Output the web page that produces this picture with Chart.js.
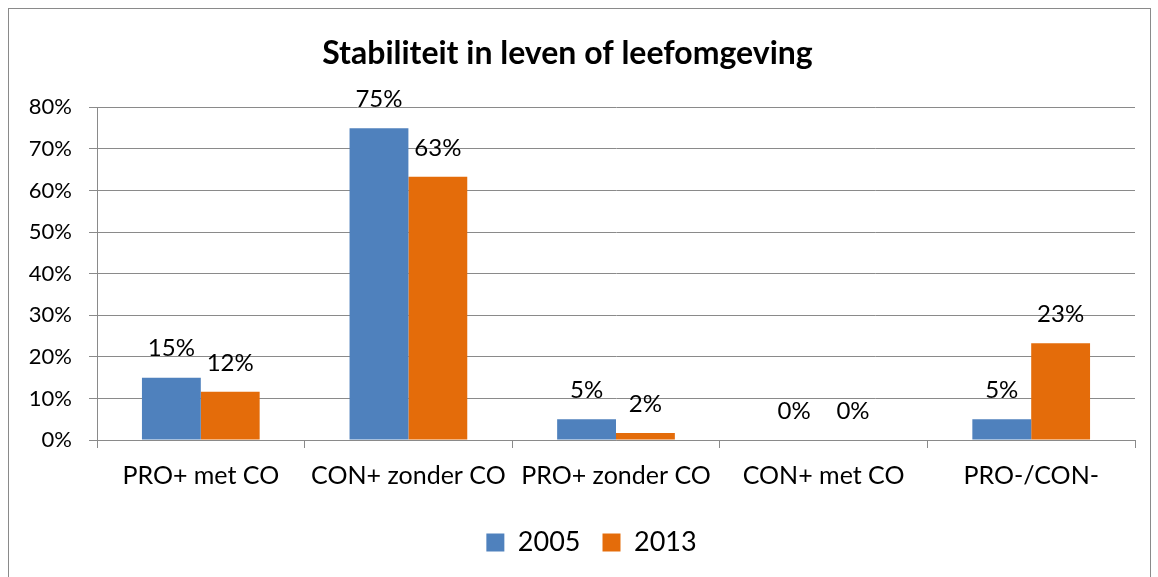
<!DOCTYPE html>
<html>
<head>
<meta charset="utf-8">
<script src="https://cdn.jsdelivr.net/npm/chart.js@4/dist/chart.umd.min.js"></script>
<style>
  html, body { margin: 0; padding: 0; background: #fff; }
  #wrap { position: relative; width: 1158px; height: 577px; }
  #frame { position: absolute; left: 8px; top: 8px; width: 1143px; height: 580px; border: 1px solid #8a8a8a; box-sizing: border-box; pointer-events: none; }
  canvas { position: absolute; left: 0; top: 0; }
</style>
</head>
<body>
<div id="wrap">
  <canvas id="chart" width="1158" height="577"></canvas>
  <div id="frame"></div>
</div>
<script>
const categories = ['PRO+ met CO', 'CON+ zonder CO', 'PRO+ zonder CO', 'CON+ met CO', 'PRO-/CON-'];
const values2005 = [15, 75, 5, 0, 5];
const values2013 = [11.6, 63.3, 1.7, 0, 23.3];
const yTicks = [0, 10, 20, 30, 40, 50, 60, 70, 80];

const FONT = 'Lato, "Liberation Sans", sans-serif';

// draws the rounded value above each bar
const barLabels = {
    id: 'barLabels',
    afterDatasetsDraw(chart) {
        const ctx = chart.ctx;
        ctx.save();
        ctx.font = '24px ' + FONT;
        ctx.fillStyle = '#000';
        ctx.textAlign = 'center';
        ctx.textBaseline = 'middle';
        chart.data.datasets.forEach((ds, i) => {
            chart.getDatasetMeta(i).data.forEach((bar, j) => {
                ctx.fillText(Math.round(ds.data[j]) + '%', bar.x, bar.y - 29);
            });
        });
        ctx.restore();
    }
};

// legend sits a bit right of the title in the original
const legendShift = {
    id: 'legendShift',
    afterLayout(chart) {
        if (chart.legend) {
            chart.legend.left += 24;
            chart.legend.right += 24;
        }
    }
};

new Chart(document.getElementById('chart'), {
    type: 'bar',
    data: {
        labels: categories,
        datasets: [
            { label: '2005', data: values2005, backgroundColor: '#4F81BD' },
            { label: '2013', data: values2013, backgroundColor: '#E46C0A' }
        ]
    },
    options: {
        responsive: false,
        animation: false,
        layout: { padding: { left: 0, right: 23, top: 0, bottom: 11 } },
        datasets: { bar: { categoryPercentage: 0.567, barPercentage: 1 } },
        plugins: {
            title: {
                display: true,
                text: 'Stabiliteit in leven of leefomgeving',
                color: '#000',
                font: { family: FONT, size: 32, weight: 'bold' },
                padding: { top: 34, bottom: 35 }
            },
            legend: {
                position: 'bottom',
                labels: {
                    color: '#000',
                    boxWidth: 18,
                    boxHeight: 18,
                    padding: 22,
                    font: { family: FONT, size: 27 }
                }
            },
            tooltip: { enabled: false }
        },
        scales: {
            x: {
                grid: { drawOnChartArea: false, drawTicks: true, tickLength: 8, color: '#8a8a8a', offset: true },
                border: { color: '#8a8a8a' },
                ticks: { color: '#000', font: { family: FONT, size: 25 }, padding: 13, maxRotation: 0, autoSkip: false },
                afterFit(scale) { scale.height = 67; }
            },
            y: {
                min: 0,
                max: 80,
                afterBuildTicks(scale) { scale.ticks = yTicks.map(v => ({ value: v })); },
                grid: { color: '#8a8a8a', tickLength: 8 },
                border: { color: '#8a8a8a' },
                ticks: { color: '#000', font: { family: FONT, size: 22 }, padding: 17, callback: v => v + '%' },
                afterFit(scale) { scale.width = 97; }
            }
        }
    },
    plugins: [barLabels, legendShift]
});
</script>
</body>
</html>
